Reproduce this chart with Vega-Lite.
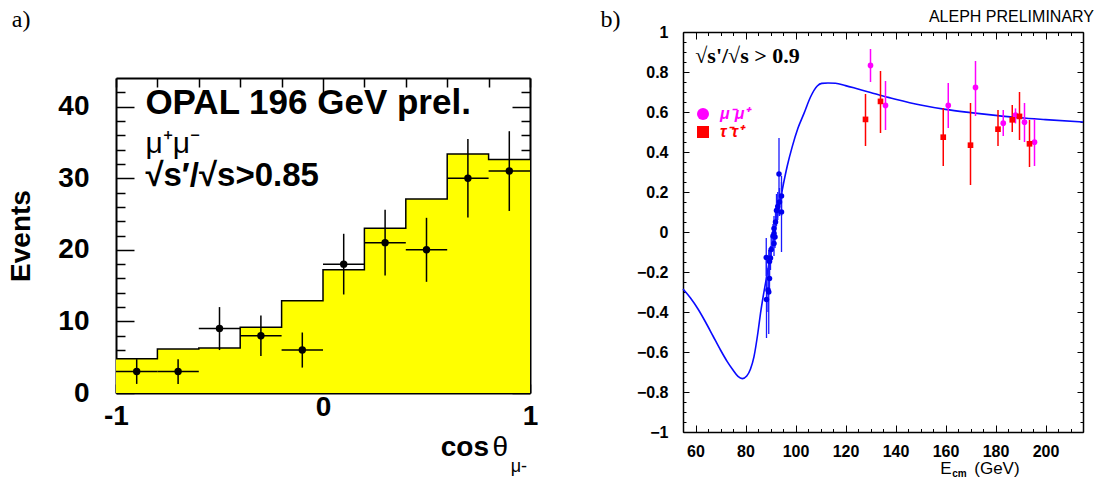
{
  "$schema": "https://vega.github.io/schema/vega-lite/v6.json",
  "background": "white",
  "padding": {"left": 7, "top": 8, "right": 5, "bottom": 5},
  "spacing": 62,
  "resolve": {"scale": {"color": "independent", "shape": "independent"}},
  "config": {"view": {"stroke": null}, "axis": {"grid": false, "zindex": 1}},
  "datasets": {
    "hist": [
      {"edge": -1.0, "mc": 4.8}, {"edge": -0.8, "mc": 6.15}, {"edge": -0.6, "mc": 6.3},
      {"edge": -0.4, "mc": 9.2}, {"edge": -0.2, "mc": 12.9}, {"edge": 0.0, "mc": 17.2},
      {"edge": 0.2, "mc": 23.0}, {"edge": 0.4, "mc": 27.1}, {"edge": 0.6, "mc": 33.4},
      {"edge": 0.8, "mc": 32.6}, {"edge": 1.0, "mc": 32.6}
    ],
    "opal": [
      {"c": -0.9, "xlo": -1.0, "xhi": -0.8, "n": 3, "lo": 1.27, "hi": 4.73},
      {"c": -0.7, "xlo": -0.8, "xhi": -0.6, "n": 3, "lo": 1.27, "hi": 4.73},
      {"c": -0.5, "xlo": -0.6, "xhi": -0.4, "n": 9, "lo": 6.0, "hi": 12.0},
      {"c": -0.3, "xlo": -0.4, "xhi": -0.2, "n": 8, "lo": 5.17, "hi": 10.83},
      {"c": -0.1, "xlo": -0.2, "xhi": 0.0, "n": 6, "lo": 3.55, "hi": 8.45},
      {"c": 0.1, "xlo": 0.0, "xhi": 0.2, "n": 18, "lo": 13.76, "hi": 22.24},
      {"c": 0.3, "xlo": 0.2, "xhi": 0.4, "n": 21, "lo": 16.42, "hi": 25.58},
      {"c": 0.5, "xlo": 0.4, "xhi": 0.6, "n": 20, "lo": 15.53, "hi": 24.47},
      {"c": 0.7, "xlo": 0.6, "xhi": 0.8, "n": 30, "lo": 24.52, "hi": 35.48},
      {"c": 0.9, "xlo": 0.8, "xhi": 1.0, "n": 31, "lo": 25.43, "hi": 36.57}
    ],
    "curve": [
      {"E": 55, "A": -0.285}, {"E": 58, "A": -0.33}, {"E": 61, "A": -0.385}, {"E": 64, "A": -0.45},
      {"E": 67, "A": -0.52}, {"E": 70, "A": -0.59}, {"E": 72.7, "A": -0.648}, {"E": 75, "A": -0.69},
      {"E": 77, "A": -0.722}, {"E": 78.7, "A": -0.733}, {"E": 80.5, "A": -0.72}, {"E": 82, "A": -0.685},
      {"E": 83.4, "A": -0.623}, {"E": 85, "A": -0.5}, {"E": 86, "A": -0.407}, {"E": 88.7, "A": -0.207},
      {"E": 91.7, "A": 0.0}, {"E": 94.7, "A": 0.21}, {"E": 96.7, "A": 0.33}, {"E": 98.7, "A": 0.427},
      {"E": 101, "A": 0.52}, {"E": 103.4, "A": 0.593}, {"E": 106, "A": 0.675}, {"E": 108.7, "A": 0.73},
      {"E": 110.5, "A": 0.743}, {"E": 113, "A": 0.745}, {"E": 116, "A": 0.744}, {"E": 120, "A": 0.732},
      {"E": 125, "A": 0.715}, {"E": 130, "A": 0.698}, {"E": 135, "A": 0.68}, {"E": 140, "A": 0.664},
      {"E": 150, "A": 0.635}, {"E": 160, "A": 0.613}, {"E": 170, "A": 0.597}, {"E": 180, "A": 0.583},
      {"E": 190, "A": 0.571}, {"E": 200, "A": 0.562}, {"E": 215, "A": 0.55}
    ],
    "lep2": [
      {"proc": "mu", "E": 130, "A": 0.833, "lo": 0.75, "hi": 0.915},
      {"proc": "mu", "E": 136, "A": 0.633, "lo": 0.51, "hi": 0.755},
      {"proc": "mu", "E": 161.1, "A": 0.633, "lo": 0.52, "hi": 0.745},
      {"proc": "mu", "E": 172, "A": 0.723, "lo": 0.58, "hi": 0.855},
      {"proc": "mu", "E": 183.1, "A": 0.544, "lo": 0.48, "hi": 0.61},
      {"proc": "mu", "E": 188, "A": 0.585, "lo": 0.543, "hi": 0.618},
      {"proc": "mu", "E": 191.6, "A": 0.549, "lo": 0.45, "hi": 0.645},
      {"proc": "mu", "E": 195.6, "A": 0.449, "lo": 0.33, "hi": 0.565},
      {"proc": "tau", "E": 128, "A": 0.563, "lo": 0.43, "hi": 0.69},
      {"proc": "tau", "E": 134, "A": 0.653, "lo": 0.495, "hi": 0.805},
      {"proc": "tau", "E": 159.1, "A": 0.474, "lo": 0.33, "hi": 0.62},
      {"proc": "tau", "E": 170, "A": 0.434, "lo": 0.235, "hi": 0.645},
      {"proc": "tau", "E": 181, "A": 0.514, "lo": 0.43, "hi": 0.61},
      {"proc": "tau", "E": 186.7, "A": 0.561, "lo": 0.5, "hi": 0.635},
      {"proc": "tau", "E": 189.6, "A": 0.578, "lo": 0.46, "hi": 0.7},
      {"proc": "tau", "E": 193.6, "A": 0.441, "lo": 0.325, "hi": 0.56}
    ],
    "lep1": [
      {"E": 93.4, "A": 0.29, "lo": 0.12, "hi": 0.47},
      {"E": 94.4, "A": 0.18, "lo": 0.08, "hi": 0.28},
      {"E": 94.4, "A": 0.1, "lo": -0.1, "hi": 0.25},
      {"E": 92.4, "A": 0.107, "lo": 0.03, "hi": 0.19},
      {"E": 92.9, "A": 0.127, "lo": 0.06, "hi": 0.2},
      {"E": 93.6, "A": 0.15, "lo": 0.08, "hi": 0.22},
      {"E": 92.0, "A": 0.05, "lo": -0.02, "hi": 0.12},
      {"E": 91.4, "A": 0.018, "lo": -0.04, "hi": 0.08},
      {"E": 91.4, "A": -0.008, "lo": -0.06, "hi": 0.05},
      {"E": 91.8, "A": -0.025, "lo": -0.08, "hi": 0.03},
      {"E": 91.0, "A": -0.02, "lo": -0.08, "hi": 0.04},
      {"E": 91.4, "A": -0.057, "lo": -0.12, "hi": 0.0},
      {"E": 90.3, "A": -0.087, "lo": -0.15, "hi": -0.02},
      {"E": 88.3, "A": -0.128, "lo": -0.22, "hi": -0.03},
      {"E": 89.6, "A": -0.148, "lo": -0.22, "hi": -0.08},
      {"E": 90.0, "A": -0.13, "lo": -0.19, "hi": -0.07},
      {"E": 89.6, "A": -0.232, "lo": -0.3, "hi": -0.16},
      {"E": 89.0, "A": -0.29, "lo": -0.4, "hi": -0.18},
      {"E": 88.4, "A": -0.337, "lo": -0.53, "hi": -0.14},
      {"E": 89.3, "A": -0.3, "lo": -0.51, "hi": -0.09}
    ]
  },
  "hconcat": [
    {
      "title": {"text": "a)", "anchor": "start", "frame": "bounds", "dx": 4, "offset": 0, "font": "Liberation Serif", "fontSize": 24, "fontWeight": "normal", "color": "black"},
      "spacing": 20,
      "vconcat": [
        {
          "width": 414,
          "height": 25,
          "data": {"values": []},
          "mark": {"type": "point", "opacity": 0},
          "encoding": {}
        },
        {
          "width": 414,
          "height": 315,
          "resolve": {"axis": {"x": "independent", "y": "independent"}},
          "layer": [
            {
              "data": {"name": "hist"},
              "mark": {"type": "area", "interpolate": "step-after", "color": "#ffff00"},
              "encoding": {
                "x": {"field": "edge", "type": "quantitative", "scale": {"domain": [-1, 1], "nice": false, "zero": false},
                  "axis": {"orient": "bottom", "values": [-1, -0.8, -0.6, -0.4, -0.2, 0, 0.2, 0.4, 0.6, 0.8, 1], "format": "~g",
                    "labelExpr": "datum.value == -1 || datum.value == 0 || datum.value == 1 ? replace(datum.label, '\u2212', '-') : ''",
                    "tickSize": {"condition": {"test": "datum.value == 0", "value": -18}, "value": -9},
                    "tickColor": "black", "tickWidth": 1.5, "domain": true, "domainColor": "black", "domainWidth": 2,
                    "labelFont": "Liberation Sans", "labelFontSize": 28, "labelFontWeight": "bold", "labelColor": "black",
                    "labelPadding": 18, "labelFlush": false, "labelOverlap": false, "title": null}},
                "y": {"field": "mc", "type": "quantitative", "scale": {"domain": [0, 44], "nice": false},
                  "axis": {"orient": "left", "values": [0, 2, 4, 6, 8, 10, 12, 14, 16, 18, 20, 22, 24, 26, 28, 30, 32, 34, 36, 38, 40, 42],
                    "labelExpr": "datum.value % 10 == 0 ? datum.label : ''",
                    "tickSize": {"condition": {"test": "datum.value % 10 == 0", "value": -18}, "value": -9},
                    "tickColor": "black", "tickWidth": 1.5, "domain": true, "domainColor": "black", "domainWidth": 2,
                    "labelFont": "Liberation Sans", "labelFontSize": 28, "labelFontWeight": "bold", "labelColor": "black",
                    "labelPadding": 45, "labelOverlap": false,
                    "title": "Events", "titleFont": "Liberation Sans", "titleFontSize": 28, "titleFontWeight": "bold", "titleColor": "black", "titlePadding": 22}}
              }
            },
            {
              "data": {"name": "hist"},
              "mark": {"type": "line", "interpolate": "step-after", "color": "black", "strokeWidth": 1.5},
              "encoding": {
                "x": {"field": "edge", "type": "quantitative",
                  "axis": {"orient": "top", "values": [-1, -0.8, -0.6, -0.4, -0.2, 0, 0.2, 0.4, 0.6, 0.8, 1], "labels": false,
                    "tickSize": {"condition": {"test": "datum.value == 0", "value": -18}, "value": -9},
                    "tickColor": "black", "tickWidth": 1.5, "domain": true, "domainColor": "black", "domainWidth": 2, "title": null}},
                "y": {"field": "mc", "type": "quantitative",
                  "axis": {"orient": "right", "values": [0, 2, 4, 6, 8, 10, 12, 14, 16, 18, 20, 22, 24, 26, 28, 30, 32, 34, 36, 38, 40, 42], "labels": false,
                    "tickSize": {"condition": {"test": "datum.value % 10 == 0", "value": -18}, "value": -9},
                    "tickColor": "black", "tickWidth": 1.5, "domain": true, "domainColor": "black", "domainWidth": 2, "title": null}}
              }
            },
            {
              "data": {"name": "opal"},
              "mark": {"type": "rule", "color": "black", "strokeWidth": 1.5},
              "encoding": {
                "x": {"field": "c", "type": "quantitative", "axis": null},
                "y": {"field": "lo", "type": "quantitative", "axis": null},
                "y2": {"field": "hi"}
              }
            },
            {
              "data": {"name": "opal"},
              "mark": {"type": "rule", "color": "black", "strokeWidth": 1.5},
              "encoding": {
                "x": {"field": "xlo", "type": "quantitative", "axis": null},
                "x2": {"field": "xhi"},
                "y": {"field": "n", "type": "quantitative", "axis": null}
              }
            },
            {
              "data": {"name": "opal"},
              "mark": {"type": "circle", "color": "black", "opacity": 1, "size": 55},
              "encoding": {
                "x": {"field": "c", "type": "quantitative", "axis": null},
                "y": {"field": "n", "type": "quantitative", "axis": null}
              }
            },
            {
              "data": {"values": [{}]},
              "mark": {"type": "text", "text": "OPAL 196 GeV prel.", "font": "Liberation Sans", "fontSize": 35, "fontWeight": "bold", "align": "left", "baseline": "alphabetic", "color": "black"},
              "encoding": {"x": {"datum": -0.858, "type": "quantitative", "axis": null}, "y": {"datum": 39.0, "type": "quantitative", "axis": null}}
            },
            {
              "data": {"values": [{}]},
              "mark": {"type": "text", "text": "\u03bc\u207a\u03bc\u207b", "font": "Liberation Sans", "fontSize": 30, "fontWeight": "normal", "align": "left", "baseline": "alphabetic", "color": "black"},
              "encoding": {"x": {"datum": -0.858, "type": "quantitative", "axis": null}, "y": {"datum": 33.5, "type": "quantitative", "axis": null}}
            },
            {
              "data": {"values": [{}]},
              "mark": {"type": "text", "text": "\u221as\u2032/\u221as>0.85", "font": "Liberation Sans", "fontSize": 33, "fontWeight": "bold", "align": "left", "baseline": "alphabetic", "color": "black"},
              "encoding": {"x": {"datum": -0.858, "type": "quantitative", "axis": null}, "y": {"datum": 28.85, "type": "quantitative", "axis": null}}
            },
            {
              "data": {"values": [{}]},
              "mark": {"type": "text", "text": "cos", "font": "Liberation Sans", "fontSize": 28, "fontWeight": "bold", "align": "right", "baseline": "alphabetic", "color": "black", "dx": -41, "dy": 63},
              "encoding": {"x": {"datum": 1, "type": "quantitative", "axis": null}, "y": {"datum": 0, "type": "quantitative", "axis": null}}
            },
            {
              "data": {"values": [{}]},
              "mark": {"type": "text", "text": "\u03b8", "font": "Liberation Sans", "fontSize": 28, "fontWeight": "normal", "align": "right", "baseline": "alphabetic", "color": "black", "dx": -22, "dy": 63},
              "encoding": {"x": {"datum": 1, "type": "quantitative", "axis": null}, "y": {"datum": 0, "type": "quantitative", "axis": null}}
            },
            {
              "data": {"values": [{}]},
              "mark": {"type": "text", "text": "\u03bc-", "font": "Liberation Sans", "fontSize": 18, "fontWeight": "normal", "align": "right", "baseline": "alphabetic", "color": "black", "dx": -3, "dy": 79},
              "encoding": {"x": {"datum": 1, "type": "quantitative", "axis": null}, "y": {"datum": 0, "type": "quantitative", "axis": null}}
            }
          ]
        }
      ]
    },
    {
      "width": 400,
      "height": 400,
      "title": {"text": "b)", "anchor": "start", "frame": "bounds", "dx": -36, "offset": -23, "font": "Liberation Serif", "fontSize": 24, "fontWeight": "normal", "color": "black"},
      "resolve": {"axis": {"x": "independent", "y": "independent"}},
      "layer": [
        {
          "data": {"name": "curve"},
          "mark": {"type": "line", "color": "#0a0aff", "strokeWidth": 1.6, "interpolate": "monotone"},
          "encoding": {
            "x": {"field": "E", "type": "quantitative", "scale": {"domain": [55, 215], "nice": false, "zero": false},
              "axis": {"orient": "bottom", "values": [55, 60, 65, 70, 75, 80, 85, 90, 95, 100, 105, 110, 115, 120, 125, 130, 135, 140, 145, 150, 155, 160, 165, 170, 175, 180, 185, 190, 195, 200, 205, 210, 215],
                "labelExpr": "datum.value % 20 == 0 ? datum.label : ''",
                "tickSize": {"condition": {"test": "datum.value % 20 == 0", "value": -7}, "value": -3.5},
                "tickColor": "black", "tickWidth": 1, "domain": true, "domainColor": "black", "domainWidth": 1.5,
                "labelFont": "Liberation Sans", "labelFontSize": 16, "labelFontWeight": "bold", "labelColor": "black",
                "labelPadding": 18, "labelFlush": false, "labelOverlap": false, "title": null}},
            "y": {"field": "A", "type": "quantitative", "scale": {"domain": [-1, 1], "nice": false, "zero": false},
              "axis": {"orient": "left", "values": [-1, -0.95, -0.9, -0.85, -0.8, -0.75, -0.7, -0.65, -0.6, -0.55, -0.5, -0.45, -0.4, -0.35, -0.3, -0.25, -0.2, -0.15, -0.1, -0.05, 0, 0.05, 0.1, 0.15, 0.2, 0.25, 0.3, 0.35, 0.4, 0.45, 0.5, 0.55, 0.6, 0.65, 0.7, 0.75, 0.8, 0.85, 0.9, 0.95, 1],
                "format": "~g",
                "labelExpr": "abs(datum.value * 5 - round(datum.value * 5)) < 0.0001 ? datum.label : ''",
                "tickSize": {"condition": {"test": "abs(datum.value * 5 - round(datum.value * 5)) < 0.0001", "value": -6}, "value": -3},
                "tickColor": "black", "tickWidth": 1, "domain": true, "domainColor": "black", "domainWidth": 1.5,
                "labelFont": "Liberation Sans", "labelFontSize": 16, "labelFontWeight": "bold", "labelColor": "black",
                "labelPadding": 21, "labelFlush": false, "labelOverlap": false, "title": null}}
          }
        },
        {
          "data": {"name": "lep2"},
          "mark": {"type": "rule", "strokeWidth": 1.5},
          "encoding": {
            "x": {"field": "E", "type": "quantitative",
              "axis": {"orient": "top", "values": [55, 60, 65, 70, 75, 80, 85, 90, 95, 100, 105, 110, 115, 120, 125, 130, 135, 140, 145, 150, 155, 160, 165, 170, 175, 180, 185, 190, 195, 200, 205, 210, 215],
                "labels": false,
                "tickSize": {"condition": {"test": "datum.value % 20 == 0", "value": -7}, "value": -3.5},
                "tickColor": "black", "tickWidth": 1, "domain": true, "domainColor": "black", "domainWidth": 1.5, "title": null}},
            "y": {"field": "lo", "type": "quantitative",
              "axis": {"orient": "right", "values": [-1, -0.95, -0.9, -0.85, -0.8, -0.75, -0.7, -0.65, -0.6, -0.55, -0.5, -0.45, -0.4, -0.35, -0.3, -0.25, -0.2, -0.15, -0.1, -0.05, 0, 0.05, 0.1, 0.15, 0.2, 0.25, 0.3, 0.35, 0.4, 0.45, 0.5, 0.55, 0.6, 0.65, 0.7, 0.75, 0.8, 0.85, 0.9, 0.95, 1],
                "labels": false,
                "tickSize": {"condition": {"test": "abs(datum.value * 5 - round(datum.value * 5)) < 0.0001", "value": -6}, "value": -3},
                "tickColor": "black", "tickWidth": 1, "domain": true, "domainColor": "black", "domainWidth": 1.5, "title": null}},
            "y2": {"field": "hi"},
            "color": {"field": "proc", "type": "nominal", "scale": {"domain": ["mu", "tau"], "range": ["#ff00ff", "#ff0000"]},
              "legend": {"orient": "none", "legendX": 12, "legendY": 74, "title": null, "padding": 0, "symbolSize": 144, "symbolStrokeWidth": 0,
                "labelFont": "Liberation Sans", "labelFontSize": 16, "labelFontStyle": "italic", "labelFontWeight": "bold", "labelOffset": 9, "rowPadding": 2,
                "labelExpr": "datum.value == 'mu' ? '\u03bc\u207b\u03bc\u207a' : '\u03c4\u207b\u03c4\u207a'",
                "encode": {"labels": {"update": {"fill": {"signal": "datum.value == 'mu' ? '#ff00ff' : '#ff0000'"}}}}}}
          }
        },
        {
          "data": {"name": "lep1"},
          "mark": {"type": "rule", "color": "#1a1aff", "strokeWidth": 1.3},
          "encoding": {
            "x": {"field": "E", "type": "quantitative", "axis": null},
            "y": {"field": "lo", "type": "quantitative", "axis": null},
            "y2": {"field": "hi"}
          }
        },
        {
          "data": {"name": "lep1"},
          "mark": {"type": "circle", "color": "#0000ee", "opacity": 1, "size": 30},
          "encoding": {
            "x": {"field": "E", "type": "quantitative", "axis": null},
            "y": {"field": "A", "type": "quantitative", "axis": null}
          }
        },
        {
          "data": {"name": "lep2"},
          "mark": {"type": "point", "filled": true, "opacity": 1, "size": 32},
          "encoding": {
            "x": {"field": "E", "type": "quantitative", "axis": null},
            "y": {"field": "A", "type": "quantitative", "axis": null},
            "color": {"field": "proc", "type": "nominal", "scale": {"domain": ["mu", "tau"], "range": ["#ff00ff", "#ff0000"]},
              "legend": {"orient": "none", "legendX": 12, "legendY": 74, "title": null, "padding": 0, "symbolSize": 144, "symbolStrokeWidth": 0,
                "labelFont": "Liberation Sans", "labelFontSize": 16, "labelFontStyle": "italic", "labelFontWeight": "bold", "labelOffset": 9, "rowPadding": 2,
                "labelExpr": "datum.value == 'mu' ? '\u03bc\u207b\u03bc\u207a' : '\u03c4\u207b\u03c4\u207a'",
                "encode": {"labels": {"update": {"fill": {"signal": "datum.value == 'mu' ? '#ff00ff' : '#ff0000'"}}}}}},
            "shape": {"field": "proc", "type": "nominal", "scale": {"domain": ["mu", "tau"], "range": ["circle", "square"]},
              "legend": {"orient": "none", "legendX": 12, "legendY": 74, "title": null, "padding": 0, "symbolSize": 144, "symbolStrokeWidth": 0,
                "labelFont": "Liberation Sans", "labelFontSize": 16, "labelFontStyle": "italic", "labelFontWeight": "bold", "labelOffset": 9, "rowPadding": 2,
                "labelExpr": "datum.value == 'mu' ? '\u03bc\u207b\u03bc\u207a' : '\u03c4\u207b\u03c4\u207a'",
                "encode": {"labels": {"update": {"fill": {"signal": "datum.value == 'mu' ? '#ff00ff' : '#ff0000'"}}}}}}
          }
        },
        {
          "data": {"values": [{}]},
          "mark": {"type": "text", "text": "\u221as'/\u221as > 0.9", "font": "Liberation Serif", "fontSize": 22, "fontWeight": "bold", "align": "left", "baseline": "alphabetic", "color": "black"},
          "encoding": {"x": {"datum": 59.9, "type": "quantitative", "axis": null}, "y": {"datum": 0.843, "type": "quantitative", "axis": null}}
        },
        {
          "data": {"values": [{}]},
          "mark": {"type": "text", "text": "ALEPH PRELIMINARY", "font": "Liberation Sans", "fontSize": 16, "fontWeight": "normal", "align": "right", "baseline": "alphabetic", "color": "black", "dx": 11, "dy": -10},
          "encoding": {"x": {"datum": 215, "type": "quantitative", "axis": null}, "y": {"datum": 1, "type": "quantitative", "axis": null}}
        },
        {
          "data": {"values": [{}]},
          "mark": {"type": "text", "text": "E", "font": "Liberation Sans", "fontSize": 17, "fontWeight": "normal", "align": "left", "baseline": "alphabetic", "color": "black", "dy": 42},
          "encoding": {"x": {"datum": 157.9, "type": "quantitative", "axis": null}, "y": {"datum": -1, "type": "quantitative", "axis": null}}
        },
        {
          "data": {"values": [{}]},
          "mark": {"type": "text", "text": "cm", "font": "Liberation Sans", "fontSize": 10, "fontWeight": "bold", "align": "left", "baseline": "alphabetic", "color": "black", "dx": 12, "dy": 45},
          "encoding": {"x": {"datum": 157.9, "type": "quantitative", "axis": null}, "y": {"datum": -1, "type": "quantitative", "axis": null}}
        },
        {
          "data": {"values": [{}]},
          "mark": {"type": "text", "text": "(GeV)", "font": "Liberation Sans", "fontSize": 17, "fontWeight": "normal", "align": "left", "baseline": "alphabetic", "color": "black", "dx": 34, "dy": 42},
          "encoding": {"x": {"datum": 157.9, "type": "quantitative", "axis": null}, "y": {"datum": -1, "type": "quantitative", "axis": null}}
        }
      ]
    }
  ]
}
